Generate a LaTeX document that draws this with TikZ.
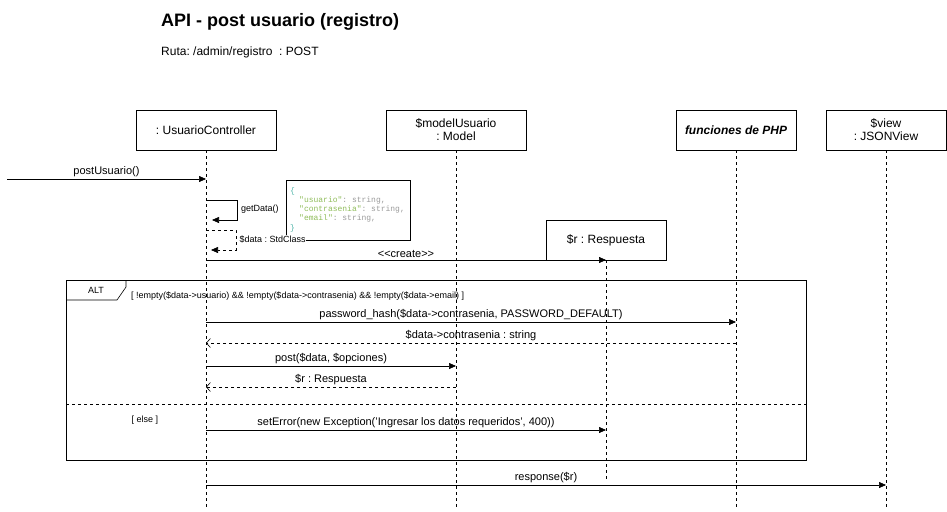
\documentclass[tikz,border=0pt]{standalone}
\usepackage{fontspec}
\setmainfont{Liberation Sans}
\setmonofont{Liberation Mono}
\usetikzlibrary{arrows.meta}
\definecolor{codeteal}{HTML}{4FB3A8}
\definecolor{codegreen}{HTML}{8FBC5A}
\definecolor{codegrey}{HTML}{9A9A9A}
\frenchspacing
\begin{document}
\begin{tikzpicture}[x=1pt,y=-1pt,
  lbl/.style={font=\fontsize{11}{13}\selectfont, inner sep=1pt},
  small/.style={font=\fontsize{9}{10}\selectfont, inner sep=1pt},
  objbox/.style={draw, line width=0.6pt, minimum width=140pt, minimum height=40pt, align=center, font=\fontsize{12}{13}\selectfont, inner sep=1pt},
  life/.style={line width=0.6pt, dash pattern=on 3pt off 3pt},
  msg/.style={line width=0.6pt, -{Triangle[length=7pt,width=6pt]}},
  ret/.style={line width=0.6pt, dash pattern=on 3pt off 3pt, -{Straight Barb[length=4pt,width=9pt]}},
  code/.style={font=\ttfamily\fontsize{8}{9}\selectfont, inner sep=0pt, anchor=west}
]
\useasboundingbox (0,0) rectangle (947,511);
% title
\node[anchor=west, font=\bfseries\fontsize{18}{20}\selectfont, inner sep=0pt] (title) at (161,22) {API - post usuario (registro)};
\node[anchor=west, font=\fontsize{12}{14}\selectfont, inner sep=0pt] (ruta) at (161,52) {Ruta: /admin/registro~~: POST};

% objects
\node[objbox] (uc) at (206,130) {: UsuarioController};
\node[objbox] (mu) at (456,130) {\$modelUsuario\\: Model};
\node[objbox, minimum width=120pt, font=\bfseries\itshape\fontsize{12}{13}\selectfont] (php) at (736,130) {funciones de PHP};
\node[objbox, minimum width=120pt] (vw) at (886,130) {\$view\\: JSONView};
\node[objbox, minimum width=120pt] (rr) at (606,240) {\$r : Respuesta};

% lifelines
\coordinate (ucE) at (206,507);
\coordinate (muE) at (456,507);
\coordinate (phpE) at (736,507);
\coordinate (vwE) at (886,507);
\coordinate (rrE) at (606,480);
\draw[life] (uc.south) -- (ucE);
\draw[life] (mu.south) -- (muE);
\draw[life] (php.south) -- (phpE);
\draw[life] (vw.south) -- (vwE);
\draw[life] (rr.south) -- (rrE);

% postUsuario
\coordinate (start) at (7,179);
\coordinate (ucA) at (206,179);
\draw[msg] (start) -- node[lbl, above=1pt] {postUsuario()} (ucA);

% code note
\node[draw, line width=0.6pt, minimum width=124pt, minimum height=60pt, inner sep=0pt] (note) at (348,210) {};
\node[code, text=codeteal] (c1) at (290,191) {\{};
\node[code] (c2) at (299,200) {\textcolor{codegreen}{"usuario"}\textcolor{codegrey}{: string,}};
\node[code] (c3) at (299,209) {\textcolor{codegreen}{"contrasenia"}\textcolor{codegrey}{: string,}};
\node[code] (c4) at (299,218) {\textcolor{codegreen}{"email"}\textcolor{codegrey}{: string,}};
\node[code, text=codeteal] (c5) at (290,228) {\}};

% getData self call
\coordinate (g1) at (206,200);
\coordinate (g2) at (237,200);
\coordinate (g3) at (237,220);
\coordinate (g4) at (212,220);
\draw[msg] (g1) -- (g2) -- (g3) -- (g4);
\node[small, anchor=west] (gl) at (240,209) {getData()};

% $data return self
\coordinate (d1) at (206,230);
\coordinate (d2) at (236,230);
\coordinate (d3) at (236,250);
\coordinate (d4) at (211,250);
\draw[ret, -{Triangle[length=7pt,width=6pt]}] (d1) -- (d2) -- (d3) -- (d4);
\node[small, anchor=west, fill=white, inner sep=0.5pt] (dl) at (239,239) {\$data : StdClass};

% create
\coordinate (cr1) at (206,260);
\coordinate (cr2) at (606,260);
\draw[msg] (cr1) -- node[lbl, above=1pt] {<{}<create>{}>} (cr2);

% ALT frame
\node[draw, line width=0.6pt, minimum width=740pt, minimum height=180pt, inner sep=0pt] (alt) at (436,370) {};
\coordinate (t1) at (66,280);
\coordinate (t2) at (126,280);
\coordinate (t3) at (126,287);
\coordinate (t4) at (117,300);
\coordinate (t5) at (66,300);
\draw[line width=0.6pt] (t2) -- (t3) -- (t4) -- (t5);
\node[small] (altl) at (96,290) {ALT};
\node[small, anchor=west] (cond) at (130,296) {[ !empty(\$data->usuario) \&\& !empty(\$data->contrasenia) \&\& !empty(\$data->email) ]};

% password hash
\coordinate (p1) at (206,322);
\coordinate (p2) at (736,322);
\draw[msg] (p1) -- node[lbl, above=1pt] {password\_hash(\$data->contrasenia, PASSWORD\_DEFAULT)} (p2);
\coordinate (q1) at (736,343);
\coordinate (q2) at (206,343);
\draw[ret] (q1) -- node[lbl, above=1pt] {\$data->contrasenia : string} (q2);

% post
\coordinate (s1) at (206,366);
\coordinate (s2) at (456,366);
\draw[msg] (s1) -- node[lbl, above=1pt] {post(\$data, \$opciones)} (s2);
\coordinate (r1) at (456,387);
\coordinate (r2) at (206,387);
\draw[ret] (r1) -- node[lbl, above=1pt] {\$r : Respuesta} (r2);

% separator
\coordinate (sep1) at (66,404);
\coordinate (sep2) at (806,404);
\draw[life] (sep1) -- (sep2);
\node[small] (els) at (145,420) {[ else ]};

% setError
\coordinate (e1) at (206,430);
\coordinate (e2) at (606,430);
\draw[msg] (e1) -- node[lbl, above=1pt] {setError(new Exception('Ingresar los datos requeridos', 400))} (e2);

% response
\coordinate (f1) at (206,485);
\coordinate (f2) at (886,485);
\draw[msg] (f1) -- node[lbl, above=1pt] {response(\$r)} (f2);
\end{tikzpicture}
\end{document}
